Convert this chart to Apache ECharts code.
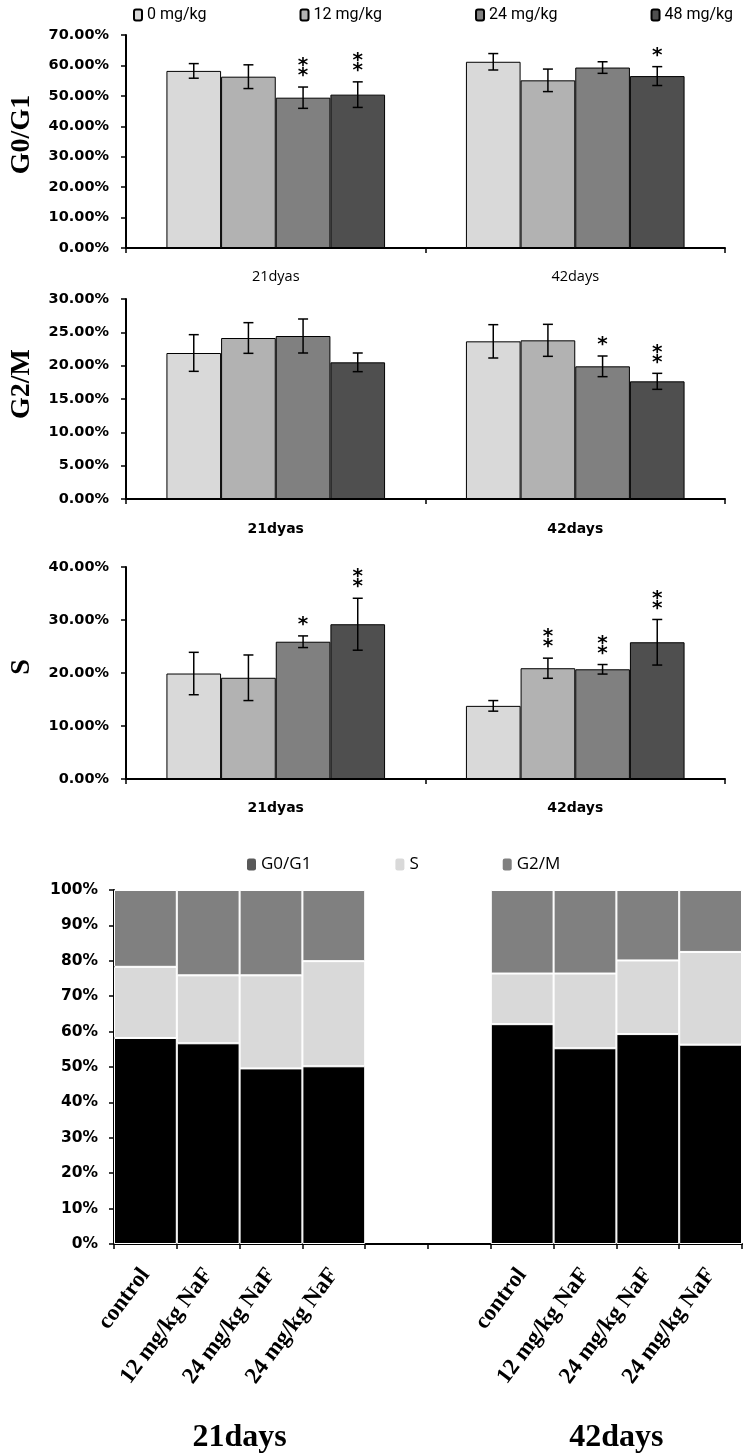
<!DOCTYPE html>
<html>
<head>
<meta charset="utf-8">
<script src="https://cdn.jsdelivr.net/npm/echarts@6/dist/echarts.min.js"></script>
<style>
html,body{margin:0;padding:0;background:#fff;}
#main{width:746px;height:1455px;}
</style>
</head>
<body>
<div id="main"></div>
<script>
// ---------- data ----------
const days = ['21dyas', '42days'];
const doses = ['0 mg/kg', '12 mg/kg', '24 mg/kg', '48 mg/kg'];
const doseColors = ['#d9d9d9', '#b2b2b2', '#808080', '#4f4f4f'];

// G0/G1 (%), index = dose
const g0g1_21 = [58.2, 56.3, 49.4, 50.4];
const g0g1_42 = [61.2, 55.1, 59.3, 56.5];
const g0g1Err_21 = [2.4, 3.9, 3.5, 4.2];
const g0g1Err_42 = [2.7, 3.7, 1.9, 3.1];
const g0g1Sig_21 = ['', '', '**', '**'];
const g0g1Sig_42 = ['', '', '', '*'];

// G2/M (%)
const g2m_21 = [21.9, 24.15, 24.45, 20.5];
const g2m_42 = [23.65, 23.8, 19.9, 17.65];
const g2mErr_21 = [2.75, 2.3, 2.55, 1.4];
const g2mErr_42 = [2.5, 2.4, 1.55, 1.2];
const g2mSig_21 = ['', '', '', ''];
const g2mSig_42 = ['', '', '*', '**'];

// S (%)
const s_21 = [19.9, 19.1, 25.9, 29.2];
const s_42 = [13.8, 20.9, 20.7, 25.8];
const sErr_21 = [4.0, 4.3, 1.1, 4.9];
const sErr_42 = [1.0, 1.9, 0.9, 4.3];
const sSig_21 = ['', '', '*', '**'];
const sSig_42 = ['', '**', '**', '**'];

// stacked composition (%)
const stackCats = ['control', '12 mg/kg NaF', '24 mg/kg NaF', '24 mg/kg NaF', '', '',
                   'control', '12 mg/kg NaF', '24 mg/kg NaF', '24 mg/kg NaF'];
const stackG0G1 = [58.2, 56.7, 49.6, 50.2, null, null, 62.1, 55.3, 59.3, 56.3];
const stackS    = [20.1, 19.2, 26.3, 29.7, null, null, 14.3, 21.1, 20.8, 26.2];
const stackG2M  = [21.7, 24.1, 24.1, 20.1, null, null, 23.6, 23.6, 19.9, 17.5];
const groupLabels = ['', '', '21days', '', '', '', '', '', '42days', '', ''];

const phaseNames = ['G0/G1', 'S', 'G2/M'];
const phaseColors = ['#000000', '#d9d9d9', '#808080'];
const phaseLegendColors = ['#595959', '#d9d9d9', '#808080'];

// ---------- helpers ----------
const CAT_GAP = 0.27;
const SANS_B = 'DejaVu Sans';

function barSeries(gi, m21, m42) {
  return doses.map((d, i) => ({
    name: d, type: 'bar', xAxisIndex: gi, yAxisIndex: gi,
    barGap: '0%', barCategoryGap: (CAT_GAP * 100) + '%',
    itemStyle: {color: doseColors[i], borderColor: '#000', borderWidth: 1},
    data: [m21[i], m42[i]]
  }));
}

function errSeries(gi, m21, m42, e21, e42, sg21, sg42) {
  const data = [], sigs = [];
  for (let i = 0; i < 4; i++) {
    data.push([0, i, m21[i], e21[i]]); sigs.push(sg21[i]);
    data.push([1, i, m42[i], e42[i]]); sigs.push(sg42[i]);
  }
  return {
    type: 'custom', name: 'err' + gi, xAxisIndex: gi, yAxisIndex: gi, z: 5, silent: true,
    encode: {x: 0, y: 2}, data: data,
    renderItem: function (params, api) {
      const cat = api.value(0), bi = api.value(1), mean = api.value(2), err = api.value(3);
      const catW = api.size([1, 0])[0];
      const bw = catW * (1 - CAT_GAP) / 4;
      const cx = api.coord([cat, mean])[0] + (bi - 1.5) * bw;
      const yt = api.coord([cat, mean + err])[1];
      const yb = api.coord([cat, mean - err])[1];
      const cap = 5;
      const st = {stroke: '#000', lineWidth: 1.5};
      const children = [
        {type: 'line', shape: {x1: cx, y1: yt, x2: cx, y2: yb}, style: st},
        {type: 'line', shape: {x1: cx - cap, y1: yt, x2: cx + cap, y2: yt}, style: st},
        {type: 'line', shape: {x1: cx - cap, y1: yb, x2: cx + cap, y2: yb}, style: st}
      ];
      const sig = sigs[params.dataIndex];
      for (let k = 0; k < sig.length; k++) {
        children.push({type: 'text', style: {text: '*', x: cx, y: yt - 11 - k * 10,
          align: 'center', verticalAlign: 'middle', font: 'bold 20px "DejaVu Sans"', fill: '#000'}});
      }
      return {type: 'group', children: children};
    }
  };
}

function catAxis(gi, labelFont, margin) {
  return {
    type: 'category', gridIndex: gi, data: days,
    axisLine: {lineStyle: {color: '#000', width: 2}},
    axisTick: {show: true, length: 5, lineStyle: {color: '#000', width: 1.5}},
    axisLabel: Object.assign({color: '#000', margin: margin, interval: 0}, labelFont)
  };
}

function valAxis(gi, max, interval, name, shiftUp) {
  return {
    type: 'value', gridIndex: gi, min: 0, max: max, interval: interval,
    name: name, nameLocation: 'middle', nameGap: 90, nameRotate: 90,
    nameTextStyle: {fontFamily: 'Liberation Serif', fontWeight: 'bold', fontSize: 28, color: '#000',
      padding: [0, 0, 0, shiftUp * 2]},
    axisLine: {show: true, lineStyle: {color: '#000', width: 2}},
    axisTick: {show: true, length: 5, lineStyle: {color: '#000', width: 1.5}},
    splitLine: {show: false},
    axisLabel: {color: '#000', fontFamily: SANS_B, fontWeight: 'bold', fontSize: 14.5, margin: 17,
      formatter: v => v.toFixed(2) + '%'}
  };
}

const chart = echarts.init(document.getElementById('main'));
const option = {
  animation: false,
  backgroundColor: '#fff',
  legend: [
    {data: doses, left: 133, top: 7, padding: 0, width: 613, itemWidth: 8, itemHeight: 11, itemGap: 93,
     textStyle: {fontFamily: 'Roboto', fontSize: 16, color: '#000'}},
    {data: phaseNames.map((n, i) => ({name: n, itemStyle: {color: phaseLegendColors[i], borderWidth: 0}})),
     left: 242, top: 851, itemWidth: 9, itemHeight: 12, itemGap: 84,
     textStyle: {fontFamily: "'Open Sans', sans-serif", fontSize: 17, color: '#000'}}
  ],
  grid: [
    {left: 125, right: 21, top: 35, height: 213},
    {left: 121, right: 21, top: 299, height: 200},
    {left: 125, right: 21, top: 567, height: 212},
    {left: 114, right: 4, top: 890, height: 354}
  ],
  xAxis: [
    catAxis(0, {fontFamily: 'Open Sans', fontSize: 14.5}, 21),
    catAxis(1, {fontFamily: SANS_B, fontWeight: 'bold', fontSize: 14}, 23),
    catAxis(2, {fontFamily: SANS_B, fontWeight: 'bold', fontSize: 14}, 22),
    {
      type: 'category', gridIndex: 3, data: stackCats,
      axisLine: {lineStyle: {color: '#000', width: 2}},
      axisTick: {show: true, length: 5, interval: 0, lineStyle: {color: '#000', width: 1.5}},
      axisLabel: {color: '#000', interval: 0, rotate: 53, margin: 27,
        fontFamily: 'Liberation Serif', fontWeight: 'bold', fontSize: 23}
    },
    {
      type: 'category', gridIndex: 3, data: groupLabels, boundaryGap: false, position: 'bottom', offset: 174,
      axisLine: {show: false}, axisTick: {show: false},
      axisLabel: {color: '#000', interval: 0, margin: 4,
        fontFamily: 'Liberation Serif', fontWeight: 'bold', fontSize: 32}
    }
  ],
  yAxis: [
    valAxis(0, 70, 10, 'G0/G1', 7),
    valAxis(1, 30, 5, 'G2/M', 15),
    valAxis(2, 40, 10, 'S', 6),
    {
      type: 'value', gridIndex: 3, min: 0, max: 100, interval: 10,
      axisLine: {show: true, lineStyle: {color: '#000', width: 2}},
      axisTick: {show: true, length: 5, lineStyle: {color: '#000', width: 1.5}},
      splitLine: {show: false},
      axisLabel: {color: '#000', fontFamily: SANS_B, fontWeight: 'bold', fontSize: 15.5, margin: 16,
        formatter: '{value}%'}
    }
  ],
  series: [].concat(
    barSeries(0, g0g1_21, g0g1_42),
    [errSeries(0, g0g1_21, g0g1_42, g0g1Err_21, g0g1Err_42, g0g1Sig_21, g0g1Sig_42)],
    barSeries(1, g2m_21, g2m_42),
    [errSeries(1, g2m_21, g2m_42, g2mErr_21, g2mErr_42, g2mSig_21, g2mSig_42)],
    barSeries(2, s_21, s_42),
    [errSeries(2, s_21, s_42, sErr_21, sErr_42, sSig_21, sSig_42)],
    [stackG0G1, stackS, stackG2M].map((arr, i) => ({
      name: phaseNames[i], type: 'bar', stack: 'phase', xAxisIndex: 3, yAxisIndex: 3,
      barCategoryGap: '0%',
      itemStyle: {color: phaseColors[i], borderColor: '#ffffff', borderWidth: 1},
      data: arr
    }))
  )
};
chart.setOption(option);
</script>
</body>
</html>
